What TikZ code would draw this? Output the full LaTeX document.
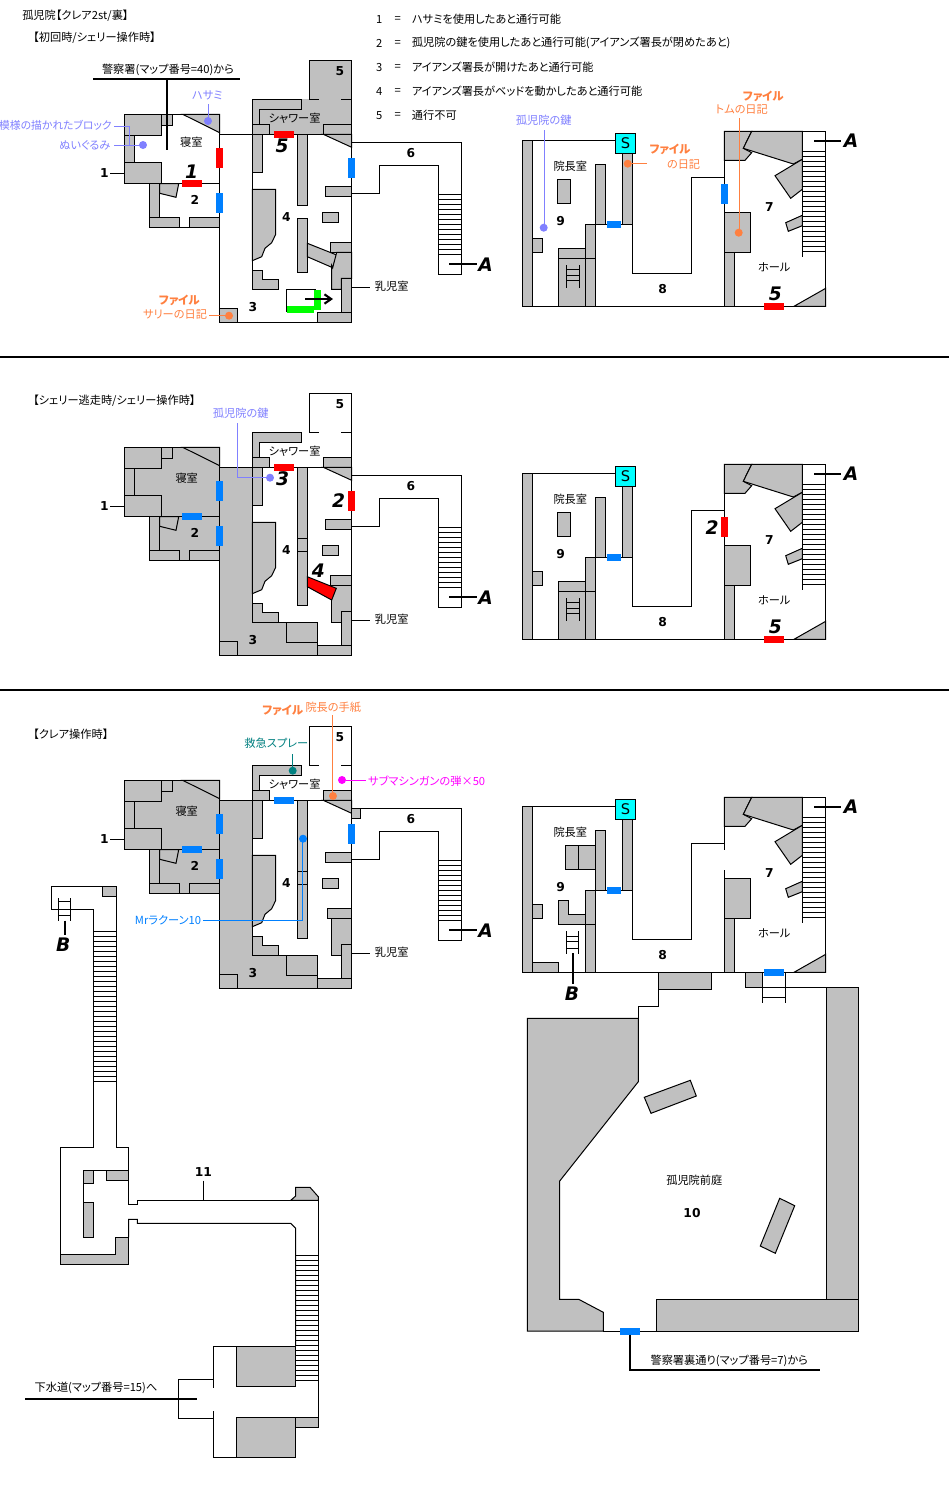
\documentclass[tikz,border=0pt]{standalone}
\usepackage{fontspec}
\usetikzlibrary{arrows.meta}
\setmainfont{Noto Sans CJK JP}[RawFeature=+palt]
\newfontfamily\numf{DejaVu Sans}
\definecolor{wallg}{HTML}{C0C0C0}
\definecolor{itemb}{HTML}{8080FF}
\definecolor{filec}{HTML}{FF8040}
\definecolor{doorb}{HTML}{0080FF}
\definecolor{tealc}{HTML}{008080}
\definecolor{cyanc}{HTML}{00FFFF}
\definecolor{magc}{HTML}{FF00FF}
\definecolor{greenc}{HTML}{00FF00}
\definecolor{redc}{HTML}{FF0000}
\newcounter{nn}
\tikzset{
 x=0.75pt,y=-0.75pt,
 line/.style={draw=black,line width=0.75pt},
 wall/.style={draw=black,line width=0.75pt,fill=wallg,line join=miter},
 under/.style={fill=wallg},
 thick2/.style={draw=black,line width=1.6pt},
 txt/.style={inner sep=0pt,font=\fontsize{8.4pt}{10pt}\selectfont},
 ltxt/.style={txt,anchor=west},
 rtxt/.style={txt,anchor=east},
 num/.style={inner sep=0pt,font=\numf\bfseries\fontsize{9.2pt}{10pt}\selectfont},
 big/.style={inner sep=0pt,font=\numf\bfseries\itshape\fontsize{14pt}{16pt}\selectfont},
 filelab/.style={txt,text=filec,font=\bfseries\fontsize{8.6pt}{10pt}\selectfont},
 dot/.style={circle,inner sep=0pt,minimum size=6pt},
 blued/.style={fill=doorb},
 redd/.style={fill=redc},
}
\newcommand\T[4][txt]{\stepcounter{nn}\node[#1] (t\thenn) at (#2,#3) {#4};}
\newcommand\D[3]{\stepcounter{nn}\node[dot,fill=#1] (d\thenn) at (#2,#3) {};}
\newcommand\stairs[5]{\foreach \yy in {#3,#4,...,#5} \draw[line] (#1,\yy) -- (#2,\yy);}
% parts shared by all three left maps
\newcommand\leftcommon{%
 % room 1
 \draw[wall] (124.3,114.3) rectangle (161.7,135.7);
 \draw[wall] (161.7,114.3) rectangle (172.3,125.7);
 \draw[wall] (182.7,114.3) -- (219.7,114.3) -- (219.7,132.7) -- cycle;
 \draw[wall] (124.3,135.7) rectangle (134.3,162.3);
 \draw[wall] (124.3,162.3) rectangle (161.7,183.7);
 \draw[line] (172.3,114.3) -- (182.7,114.3);
 \draw[line] (161.7,183.7) -- (219.7,183.7);
 % room 2
 \draw[wall] (149.7,183.7) rectangle (159.7,217.3);
 \draw[wall] (149.7,217.3) rectangle (179.7,227.3);
 \draw[wall] (189.7,217.3) rectangle (219.7,227.3);
 \draw[line] (179.7,227.3) -- (189.7,227.3);
 \draw[wall] (159.7,183.7) -- (178.7,183.7) -- (176,197.3) -- (159.7,193.3) -- cycle;
 % outer big room
 \draw[line] (219.7,114.3) -- (219.7,322.3) -- (351.7,322.3) -- (351.7,60.3) -- (309.3,60.3) -- (309.3,99.3);
 \draw[line] (219.7,134.3) -- (252.3,134.3);
 \draw[line] (252.3,134.3) -- (351.7,134.3);
 \draw[line] (252.3,99.3) -- (252.3,289.3);
 \draw[line] (309.3,99.3) -- (319,99.3);
 \draw[line] (341.3,99.3) -- (351.7,99.3);
 \draw[wall] (252.3,99.3) -- (301.7,99.3) -- (301.7,109.3) -- (259.3,109.3) -- (259.3,124.3) -- (252.3,124.3) -- cycle;
 \draw[wall] (252.3,124.3) rectangle (269.3,134.3);
 \draw[wall] (323.3,124.3) rectangle (351.7,134.3);
 \draw[wall] (323.3,134.3) -- (351.7,134.3) -- (351.7,147.3) -- cycle;
 % room 4 furniture
 \draw[wall] (252.3,134.3) rectangle (262.3,172.3);
 \draw[wall] (325.7,186.3) rectangle (351.7,196.3);
 \draw[wall] (322.3,212.3) rectangle (338.7,222.3);
 \draw[wall] (252.3,189.3) -- (275.7,189.3) -- (275.7,234.3) -- (271.7,242.7) -- (265,248.3) -- (261.7,256.7) -- (252.3,260.7) -- cycle;
 \draw[wall] (252.3,270) -- (262.3,270) -- (262.3,279.3) -- (278.3,279.3) -- (278.3,289.3) -- (252.3,289.3) -- cycle;
 \draw[wall] (219.7,308.3) rectangle (237.7,322.3);
 \draw[wall] (341.3,278.3) rectangle (351.7,312.3);
 \draw[wall] (317.3,312.3) rectangle (351.7,322.3);
 % corridor 6
 \draw[line] (351.7,142.3) -- (461.3,142.3) -- (461.3,274.3) -- (438.3,274.3) -- (438.3,165.3) -- (379.7,165.3) -- (379.7,193.3) -- (351.7,193.3);
 \stairs{438.3}{461.3}{194.3}{199.3}{254.3}
 \draw[thick2] (449,263.7) -- (477,263.7);
 \T[big]{485.7}{264.5}{A}
 \draw[line] (351.7,287) -- (370,287);
 \T{391.7}{286.5}{乳児室}
 \T[num]{104.3}{173.3}{1}
 \draw[line] (110,173.3) -- (124.3,173.3);
 \T[num]{195}{200.3}{2}
 \T[num]{286.3}{216.7}{4}
 \T[num]{253}{306.7}{3}
 \T[num]{411}{153.3}{6}
 \T[num]{340}{71.3}{5}
 \T{294.7}{118.7}{シャワー室}
}
% grey fills under rooms for maps 2 and 3
\newcommand\greyunder{%
 \fill[under] (124.3,114.3) rectangle (219.7,183.7);
 \fill[under] (149.7,183.7) rectangle (219.7,227.3);
 \fill[under] (219.7,134.3) -- (252.3,134.3) -- (252.3,289.3) -- (317.7,289.3) -- (317.7,312.3) -- (351.7,312.3) -- (351.7,322.3) -- (219.7,322.3) -- cycle;
}
\newcommand\lowerbox{%
 \T{186.7}{145.3}{寝室}
 \draw[line] (252.3,289.3) -- (286.7,289.3);
 \draw[wall] (286.7,289.3) rectangle (317.7,309.3);
 \draw[line] (317.7,309.3) -- (317.7,312.3);
 \draw[wall] (297.3,134.3) rectangle (307.3,272.3);
 \draw[line] (297.3,205.3) -- (307.3,205.3);
 \draw[line] (297.3,218.3) -- (307.3,218.3);
}
% parts shared by all three right maps
\newcommand\rightcommon{%
 \draw[wall] (522.3,140.3) rectangle (532.3,306.3);
 \draw[line] (532.3,140.3) -- (615.3,140.3);
 \draw[wall] (622.3,153.3) rectangle (632.3,224.3);
 \draw[wall] (595.7,164.3) rectangle (605.7,224.3);
 \draw[line] (605.7,224.3) -- (622.3,224.3);
 \draw[wall] (585.7,224.3) rectangle (595.7,306.3);
 \draw[line] (522.3,306.3) -- (825.7,306.3) -- (825.7,131.3) -- (724.3,131.3);
 \draw[line] (632.3,224.3) -- (632.3,273.3) -- (691.3,273.3) -- (691.3,177.3) -- (724.3,177.3);
 \draw[wall] (724.3,131.3) -- (751.7,131.3) -- (743.3,148.3) -- (751.7,152.7) -- (745,160.3) -- (724.3,160.3) -- cycle;
 \draw[wall] (751.7,131.3) -- (802.3,131.3) -- (802.3,159.3) -- (793.3,164) -- (743.3,148.3) -- cycle;
 \draw[wall] (802.3,159.3) -- (802.3,189.3) -- (790.7,198.3) -- (775,175.7) -- cycle;
 \draw[wall] (802.3,215.3) -- (802.3,225.7) -- (788.3,231.3) -- (785.7,222.7) -- cycle;
 \draw[wall] (724.3,212.3) rectangle (750.7,252.3);
 \draw[wall] (724.3,252.3) rectangle (734.3,306.3);
 \draw[wall] (794,306.3) -- (825.7,306.3) -- (825.7,288.3) -- cycle;
 \draw[line] (802.3,131.3) -- (802.3,256.7);
 \stairs{802.3}{825.7}{151.3}{156.3}{251.3}
 \fill[blued] (607,221) rectangle (621,228);
 \stepcounter{nn}\node[draw=black,line width=0.75pt,fill=cyanc,minimum size=15pt,inner sep=0pt,font=\numf\fontsize{11pt}{12pt}\selectfont] (s\thenn) at (625.5,143.3) {S};
 \draw[thick2] (814,140.7) -- (841,140.7);
 \T[big]{851}{141}{A}
 \T{570.3}{166}{院長室}
 \T[num]{560.7}{220.7}{9}
 \T[num]{662.7}{289.3}{8}
 \T[num]{769.3}{206.7}{7}
 \T{774.3}{267.7}{ホール}
}
\newcommand\rightfurn{%
 \draw[wall] (558.3,248.3) rectangle (585.7,258.3);
 \draw[wall] (558.3,258.3) rectangle (585.7,306.3);
 \draw[line] (585.7,258.3) -- (595.7,258.3);
 \draw[line] (566.3,265) -- (566.3,287.7);
 \draw[line] (579,265) -- (579,287.7);
 \foreach \yy in {269.3,275,280.7} \draw[line] (566.3,\yy) -- (579,\yy);
 \draw[wall] (557.3,179.3) rectangle (570.7,203.3);
 \draw[wall] (532.3,238.3) rectangle (542.7,252.3);
 \draw[line] (724.3,160.3) -- (724.3,212.3);
 \fill[redd] (764,303) rectangle (784,310);
 \T[big]{775.3}{294.3}{5}
}
\begin{document}
\begin{tikzpicture}
\useasboundingbox (0,0) rectangle (949,1500);
\fill[white] (0,0) rectangle (949,1500);
% ----- titles and legend
\T[ltxt]{22}{15.7}{孤児院【クレア2st/裏】}
\T[ltxt]{33}{37.6}{【初回時/シェリー操作時】}
\T[ltxt]{33}{401}{【シェリー逃走時/シェリー操作時】}
\T[ltxt]{33}{734}{【クレア操作時】}
\foreach \n/\yy/\tt in {1/19.3/ハサミを使用したあと通行可能,2/43.3/孤児院の鍵を使用したあと通行可能(アイアンズ署長が閉めたあと),3/67.3/アイアンズ署長が開けたあと通行可能,4/91.3/アイアンズ署長がベッドを動かしたあと通行可能,5/115.3/通行不可}{
 \T{379.3}{\yy}{\n}
 \T{397.7}{\yy}{=}
 \T[ltxt]{411.7}{\yy}{\tt}
}
% ----- separators
\draw[thick2] (0,356.7) -- (949,356.7);
\draw[thick2] (0,689.7) -- (949,689.7);

% ===== MAP 1 left
\fill[under] (309.3,60.3) rectangle (351.7,99.3);
\fill[under] (252.3,99.3) rectangle (351.7,134.3);
\leftcommon
\T{191.3}{142.3}{寝室}
\draw[wall] (297.3,134.3) rectangle (307.3,205.3);
\draw[wall] (297.3,218.3) rectangle (307.3,272.3);
\draw[wall] (307.3,243.3) -- (336.7,255) -- (332.7,267.7) -- (307.3,256.7) -- cycle;
\draw[wall] (330.7,242.3) rectangle (351.7,252.3);
\draw[wall] (336.7,252.3) -- (351.7,252.3) -- (351.7,278.3) -- (341.3,278.3) -- (341.3,289.3) -- (331.7,289.3) -- (331.7,265.5) -- (332.7,267.7) -- cycle;
\draw[line] (252.3,289.3) -- (278.3,289.3);
\draw[line] (286.7,312) -- (286.7,289.3) -- (316,289.3);
\fill[greenc] (287,306) rectangle (314,312.5);
\fill[greenc] (314,289.5) rectangle (321,310);
\draw[thick2,-{Straight Barb[length=5pt,width=7pt]}] (305,299) -- (333,299);
\fill[redd] (216,148) rectangle (223,168);
\fill[redd] (182,180) rectangle (202,187);
\fill[blued] (216,193) rectangle (223,213);
\fill[redd] (274,131) rectangle (294,138);
\fill[blued] (348,158) rectangle (355,178);
\T[big]{191.7}{172}{1}
\T[big]{282}{146}{5}
\T{168}{69.5}{警察署(マップ番号=40)から}
\draw[thick2] (93,79) -- (240,79);
\draw[thick2] (167,79) -- (167,150);
\T[txt,text=itemb]{207.3}{95}{ハサミ}
\draw[itemb,line width=0.75pt] (208.3,104) -- (208.3,121);
\D{itemb}{208}{121}
\T[rtxt,text=itemb,font=\fontsize{8.1pt}{10pt}\selectfont]{112}{125.7}{模様の描かれたブロック}
\draw[itemb,line width=0.75pt] (114.3,126.3) -- (129.3,126.3) -- (129.3,145.3);
\draw[itemb,line width=0.75pt] (114.3,145.3) -- (143,145.3);
\D{itemb}{143}{145}
\T[rtxt,text=itemb]{110.7}{145.7}{ぬいぐるみ}
\T[filelab]{179.3}{300}{ファイル}
\T[txt,text=filec]{175}{314.7}{サリーの日記}
\draw[filec,line width=0.75pt] (209.3,315.3) -- (229,315.3);
\D{filec}{229}{315.7}

% ===== MAP 1 right
\rightcommon
\rightfurn
\fill[blued] (721,184) rectangle (728,204);
\T[txt,text=itemb]{543.7}{120.7}{孤児院の鍵}
\draw[itemb,line width=0.75pt] (544.3,130) -- (544.3,227.7);
\D{itemb}{543.7}{227.7}
\T[filelab]{670}{149}{ファイル}
\T[ltxt,text=filec]{666.7}{164}{の日記}
\draw[filec,line width=0.75pt] (628,163.7) -- (646.7,163.7);
\D{filec}{627.7}{163.7}
\T[filelab]{763.3}{96}{ファイル}
\T[txt,text=filec]{741.7}{109}{トムの日記}
\draw[filec,line width=0.75pt] (739.3,118) -- (739.3,232.7);
\D{filec}{738.7}{232.7}

% ===== MAP 2
\begin{scope}[shift={(0,333)}]
 \greyunder
 \leftcommon
 \lowerbox
 \draw[wall] (330.7,242.3) rectangle (351.7,252.3);
 \draw[wall] (331.7,252.3) -- (351.7,252.3) -- (351.7,278.3) -- (341.3,278.3) -- (341.3,289.3) -- (331.7,289.3) -- cycle;
 \draw[draw=black,line width=0.75pt,fill=redc] (307.3,243.7) -- (336.3,255.3) -- (331.7,267) -- (307.3,253.7) -- cycle;
 \fill[blued] (216,148) rectangle (223,168);
 \fill[blued] (182,180) rectangle (202,187);
 \fill[blued] (216,193) rectangle (223,213);
 \fill[redd] (274,131) rectangle (294,138);
 \fill[redd] (348,158) rectangle (355,178);
 \T[big]{282.7}{146}{3}
 \T[big]{338.7}{167.7}{2}
 \T[big]{318.3}{238}{4}
 \rightcommon
 \rightfurn
 \fill[redd] (721,184) rectangle (728,204);
 \T[big]{712}{194.5}{2}
\end{scope}
\T[txt,text=itemb]{240.7}{413.3}{孤児院の鍵}
\draw[itemb,line width=0.75pt] (237.3,423) -- (237.3,477.3) -- (266,477.3);
\D{itemb}{270}{477.7}

% ===== MAP 3
\begin{scope}[shift={(0,666)}]
 \greyunder
 \leftcommon
 \lowerbox
 \draw[wall] (327.7,242.3) rectangle (351.7,252.3);
 \draw[wall] (331.7,252.3) -- (351.7,252.3) -- (351.7,278.3) -- (341.3,278.3) -- (341.3,289.3) -- (331.7,289.3) -- cycle;
 \draw[wall] (351.7,142.3) rectangle (360.3,152.3);
 \fill[blued] (216,148) rectangle (223,168);
 \fill[blued] (182,180) rectangle (202,187);
 \fill[blued] (216,193) rectangle (223,213);
 \fill[blued] (274,131) rectangle (294,138);
 \fill[blued] (348,158) rectangle (355,178);
 \rightcommon
 \draw[wall] (565.3,179.3) rectangle (578.3,203.3);
 \draw[wall] (578.3,179.3) rectangle (595.7,203.3);
 \draw[wall] (558.3,234.3) -- (568.7,234.3) -- (568.7,248.3) -- (585.7,248.3) -- (585.7,258.3) -- (558.3,258.3) -- cycle;
 \draw[line] (585.7,258.3) -- (595.7,258.3);
 \draw[wall] (532.3,238.3) rectangle (542.7,252.3);
 \draw[wall] (532.3,296.3) rectangle (558.3,306.3);
 \draw[line] (566.3,265) -- (566.3,287.7);
 \draw[line] (578.7,265) -- (578.7,287.7);
 \foreach \yy in {270.7,275.7,282.3} \draw[line] (566.3,\yy) -- (578.7,\yy);
 \draw[line] (724.3,160.3) -- (724.3,183.7);
 \draw[line] (724.3,204) -- (724.3,212.3);
 \fill[blued] (764,303) rectangle (784,310);
\end{scope}
% map 3 labels
\T[filelab]{282.7}{710.7}{ファイル}
\T[txt,text=filec]{333.3}{707}{院長の手紙}
\draw[filec,line width=0.75pt] (332.3,715) -- (332.3,796);
\D{filec}{333}{796}
\T[txt,text=tealc]{276.3}{743.7}{救急スプレー}
\draw[tealc,line width=0.75pt] (292.7,754.3) -- (292.7,770.7);
\D{tealc}{292.7}{770.7}
\T[txt,text=magc]{426.7}{780.7}{サブマシンガンの弾×50}
\draw[magc,line width=0.75pt] (345.7,780.3) -- (365.7,780.3);
\D{magc}{342}{780}
\T[txt,text=doorb]{168}{920.3}{Mrラクーン10}
\draw[doorb,line width=0.75pt] (203.3,920.3) -- (302.3,920.3) -- (302.3,838.3);
\D{doorb}{303}{838.7}

% ===== lower right: front court
\draw[wall] (658.3,972.3) rectangle (711.7,989.3);
\draw[wall] (745.3,972.3) rectangle (762.3,987.3);
\draw[line] (762.3,972.3) -- (762.3,1002.7);
\draw[line] (785.7,972.3) -- (785.7,1002.7);
\draw[line] (762.3,987.3) -- (826.3,987.3);
\draw[line] (762.3,997.3) -- (785.7,997.3);
\draw[wall] (826.3,987.3) rectangle (858.3,1299.3);
\draw[wall] (656.3,1299.3) rectangle (858.3,1331);
\draw[line] (658.3,989.3) -- (658.3,1006.7) -- (638.3,1006.7) -- (638.3,1018.3);
\draw[wall] (527.3,1018.3) -- (638.3,1018.3) -- (638.3,1081.7) -- (559.7,1181) -- (559.7,1299.3) -- (578.7,1299.3) -- (603.3,1312.3) -- (603.3,1331) -- (527.3,1331) -- cycle;
\draw[line] (603.3,1331) -- (656.3,1331);
\draw[wall] (644.3,1097.3) -- (690.3,1080.3) -- (696.3,1096) -- (651,1113.3) -- cycle;
\draw[wall] (779.7,1198.3) -- (794.7,1205.7) -- (775.3,1253.3) -- (760.3,1246) -- cycle;
\fill[blued] (620,1327.7) rectangle (640,1334.7);
\draw[thick2] (630,1334.7) -- (630,1369.7) -- (820,1369.7);
\T{729.3}{1361}{警察署裏通り(マップ番号=7)から}
\T{694.3}{1180}{孤児院前庭}
\T[num]{692}{1213.3}{10}
\draw[thick2] (572.7,953) -- (572.7,984);
\T[big]{572}{994}{B}

% ===== sewer
\draw[line] (51.3,886) -- (116.3,886) -- (116.3,1147.3) -- (128.7,1147.3) -- (128.7,1204.3) -- (137.3,1204.3) -- (137.3,1200.3) -- (290.7,1200.3);
\draw[line] (51.3,886) -- (51.3,909.3) -- (93.5,909.3) -- (93.5,1147.3) -- (60.3,1147.3) -- (60.3,1254.3);
\draw[wall] (102.3,886) rectangle (116.3,896.3);
\stairs{93.5}{116.3}{931.3}{936.3}{1082}
\draw[line] (58.3,898) -- (58.3,920.7);
\draw[line] (70.7,898) -- (70.7,920.7);
\foreach \yy in {901.3,915.3} \draw[line] (58.3,\yy) -- (70.7,\yy);
\draw[thick2] (64.7,920.7) -- (64.7,935);
\T[big]{63.3}{944.3}{B}
\draw[line] (83.3,1170.3) -- (128.7,1170.3);
\draw[wall] (83.3,1170.3) rectangle (93.7,1183.3);
\draw[wall] (106.3,1170.3) rectangle (128.7,1180.7);
\draw[line] (83.3,1183.3) -- (83.3,1202.3);
\draw[wall] (83.3,1202.3) rectangle (93.7,1237.3);
\draw[wall] (60.3,1254.3) -- (115.3,1254.3) -- (115.3,1237.3) -- (128.7,1237.3) -- (128.7,1264.3) -- (60.3,1264.3) -- cycle;
\draw[line] (128.7,1237.3) -- (128.7,1219.3) -- (137.3,1219.3) -- (137.3,1223.3) -- (290.7,1223.3) -- (295.7,1228.3) -- (295.7,1346);
\draw[wall] (290.7,1200.3) -- (295.7,1196) -- (295.7,1187.3) -- (310,1187.3) -- (318.3,1196.7) -- (318.3,1200.3) -- cycle;
\draw[line] (318.3,1196.7) -- (318.3,1417.3);
\stairs{295.7}{318.3}{1255.3}{1260.3}{1380.3}
\draw[wall] (236.3,1346) rectangle (295.7,1386.3);
\draw[wall] (236.3,1417.3) rectangle (295.7,1457.3);
\draw[wall] (295.7,1417.3) rectangle (318.3,1427.3);
\draw[line] (236.3,1346) -- (213.3,1346) -- (213.3,1387.7);
\draw[line] (236.3,1457.3) -- (213.3,1457.3) -- (213.3,1410.7);
\draw[line] (213.3,1379.3) -- (178.3,1379.3) -- (178.3,1418.3) -- (213.3,1418.3);
\draw[thick2] (25,1399) -- (196.7,1399);
\T{96}{1388.3}{下水道(マップ番号=15)へ}
\T[num]{203.3}{1172.3}{11}
\draw[line] (203.3,1180.7) -- (203.3,1200.3);
\end{tikzpicture}
\end{document}
